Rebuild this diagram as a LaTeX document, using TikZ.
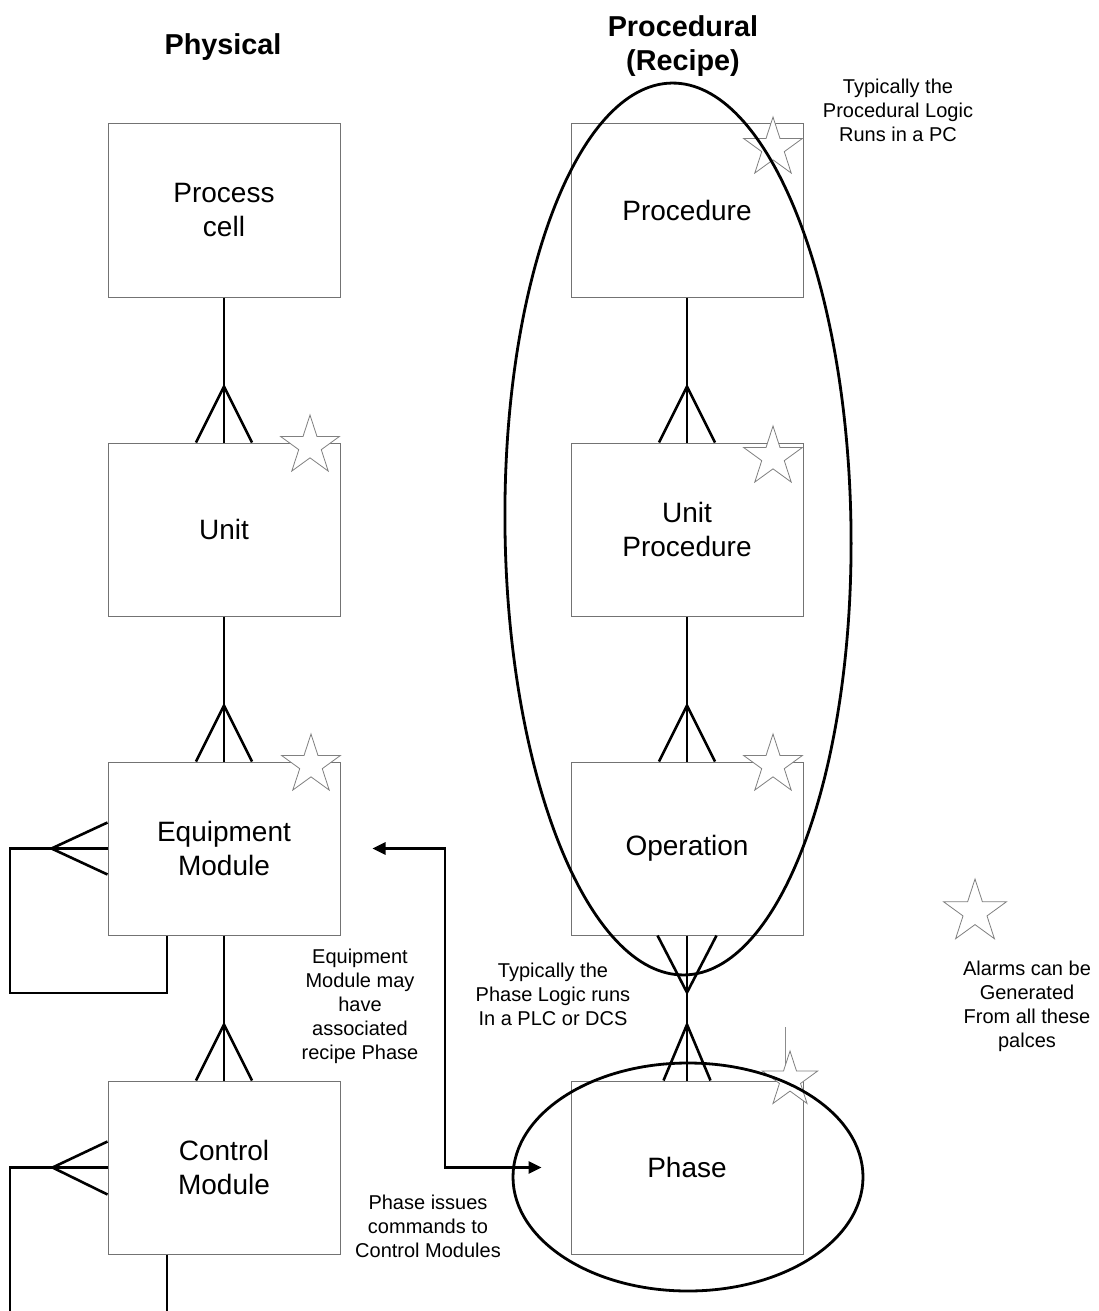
\documentclass[tikz,border=0pt]{standalone}
\usepackage{fontspec}
\setmainfont{Liberation Sans}
\usetikzlibrary{arrows.meta,shapes.geometric}
\begin{document}
\begin{tikzpicture}[x=0.5pt,y=-0.5pt,
  box/.style={draw=black!55, line width=0.5pt, minimum width=116pt, minimum height=86.5pt,
              inner sep=0pt, align=center, font=\fontsize{14}{17}\selectfont},
  conn/.style={line width=1.3pt, black},
  ring/.style={line width=1.4pt, black},
  alarm/.style={star, star points=5, star point ratio=2.618, minimum size=31pt, inner sep=0pt,
                draw=black!50, line width=0.4pt, fill=white},
  note/.style={align=center, inner sep=0pt, font=\fontsize{10}{12}\selectfont},
  heading/.style={align=center, inner sep=0pt, font=\bfseries\fontsize{14.4}{17}\selectfont},
  tip/.tip={Triangle[length=6.5pt,width=6pt]},
]
% page
\fill[white] (0,0) rectangle (1098,1311);
\useasboundingbox (0,0) rectangle (1098,1311);

% column headings
\node[heading] (tphys) at (223,47) {Physical};
\node[heading] (tproc) at (683,46) {Procedural\\(Recipe)};

% physical hierarchy
\node[box] (pc) at (224,210.5)  {Process\\cell};
\node[box] (un) at (224,529.5)  {Unit};
\node[box] (em) at (224,848.5)  {Equipment\\Module};
\node[box] (cm) at (224,1167.5) {Control\\Module};

% procedural hierarchy
\node[box] (pr) at (687,210.5)  {Procedure};
\node[box] (up) at (687,529.5)  {Unit\\Procedure};
\node[box] (op) at (687,848.5)  {Operation};
\node[box] (ph) at (687,1167.5) {Phase};

% alarm markers
\node[alarm] (s1) at (310,446) {};
\node[alarm] (s2) at (311,765) {};
\node[alarm] (s3) at (773,148) {};
\node[alarm] (s4) at (773,457) {};
\node[alarm] (s5) at (773,765) {};
\draw[black!45, line width=0.4pt] (785,1027) -- (785,1081);
\node[alarm, minimum size=29pt] (s6) at (790,1080) {};
\node[alarm, minimum size=33pt] (s7) at (975,912) {};

% grouping rings
\draw[ring, rotate around={0.8:(678,529)}] (678,529) ellipse [x radius=86.5pt, y radius=223pt];
\draw[ring] (688,1177) ellipse [x radius=87.5pt, y radius=57pt];

% one-to-many links, physical side
\draw[conn] (pc.south) -- (un.north);
\draw[conn] ([xshift=-14pt]un.north) -- ([yshift=28pt]un.north) -- ([xshift=14pt]un.north);
\draw[conn] (un.south) -- (em.north);
\draw[conn] ([xshift=-14pt]em.north) -- ([yshift=28pt]em.north) -- ([xshift=14pt]em.north);
\draw[conn] (em.south) -- (cm.north);
\draw[conn] ([xshift=-14pt]cm.north) -- ([yshift=28pt]cm.north) -- ([xshift=14pt]cm.north);

% one-to-many links, procedural side
\draw[conn] (pr.south) -- (up.north);
\draw[conn] ([xshift=-14pt]up.north) -- ([yshift=28pt]up.north) -- ([xshift=14pt]up.north);
\draw[conn] (up.south) -- (op.north);
\draw[conn] ([xshift=-14pt]op.north) -- ([yshift=28pt]op.north) -- ([xshift=14pt]op.north);
\draw[conn] (op.south) -- (ph.north);
\draw[conn] ([xshift=-14.75pt]op.south) -- ([yshift=-28.5pt]op.south) -- ([xshift=14.75pt]op.south);
\draw[conn] ([xshift=-11.75pt]ph.north) -- ([yshift=28pt]ph.north) -- ([xshift=11.75pt]ph.north);

% recursive link on equipment module
\coordinate (emBL) at (10,993);
\coordinate (emBR) at (167,993);
\draw[conn] (em.west) -| (emBL) -- (emBR) -- (emBR |- em.south);
\draw[conn] ([yshift=13pt]em.west) -- ([xshift=-28pt]em.west) -- ([yshift=-13pt]em.west);

% recursive link on control module
\coordinate (cmBL) at (10,1311);
\coordinate (cmBR) at (167,1311);
\draw[conn] (cm.west) -| (cmBL);
\draw[conn] (cmBR |- cm.south) -- (cmBR);
\draw[conn] ([yshift=13pt]cm.west) -- ([xshift=-27.5pt]cm.west) -- ([yshift=-13.5pt]cm.west);

% equipment module <-> phase association
\coordinate (bend) at (445,0);
\draw[conn, tip-tip] ([xshift=16pt]em.east) -| (bend |- ph.west) -- ([xshift=-14.5pt]ph.west);

% annotations
\node[note] (n1) at (898,110) {Typically the\\Procedural Logic\\Runs in a PC};
\node[note] (n2) at (360,1006) {Equipment\\Module may\\have\\associated\\recipe Phase};
\node[note] (n3) at (553,994) {Typically the\\Phase Logic runs\\In a PLC or DCS};
\node[note] (n4) at (428,1226) {Phase issues\\commands to\\Control Modules};
\node[note] (n5) at (1027,1006) {Alarms can be\\Generated\\From all these\\palces};
\end{tikzpicture}
\end{document}
